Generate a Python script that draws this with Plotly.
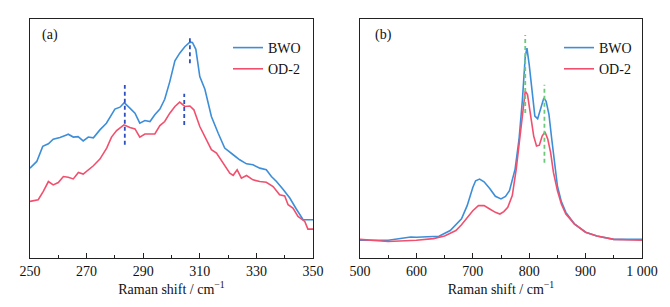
import plotly.graph_objects as go

# ---------- Panel (a) data ----------
a_bwo_x = [250, 252.4, 254.5, 256.5, 258.2, 260.6, 262.9, 263.5, 265.3, 267, 268.8, 270.6, 272.4,
           274.7, 277, 280, 281.8, 283.3, 285.3, 287.1, 288.8, 290.6, 292.4, 294.1, 295.9, 297.6,
           299.4, 301.2, 302.9, 304.7, 306.5, 307.4, 308.6, 310, 311.8, 314.1, 316.5, 318.8, 321.8,
           324.1, 326.5, 328.8, 331.2, 333.5, 335.3, 337.1, 339.4, 341.8, 344.1, 346.5, 348.2, 350]
a_bwo_y = [37.6, 40.4, 46.7, 47.8, 49.7, 50.4, 51.5, 51.8, 50.6, 50.8, 49.0, 50.6, 50.3,
           53.6, 56.4, 62.3, 63.1, 65.0, 62.7, 60.6, 56.4, 57.5, 57.1, 59.9, 62.3, 66.4,
           73.8, 82.5, 85.7, 88.4, 90.3, 90.2, 87.3, 75.9, 70.6, 59.2, 52.2, 46.0, 43.2,
           41.1, 39.4, 39.0, 37.6, 36.9, 34.1, 32.0, 28.8, 25.1, 20.5, 16.0, 16.0, 16.0]

a_od_x = [250, 252.9, 254.7, 256.5, 258.2, 260, 261.8, 263.5, 265.3, 267.1, 268.8, 270.6, 272.4,
          274.7, 277.1, 278.8, 280.6, 283.2, 285.3, 287.1, 288.8, 290.6, 292.4, 294.1, 295.9,
          297.6, 299.4, 301.2, 302.9, 304.7, 306.5, 307.9, 310, 311.8, 314.1, 315.9, 318.2, 320.6,
          321.8, 323.2, 324.7, 326.5, 328.8, 331.2, 333.5, 335.9, 338.2, 340, 341.2, 342.9, 344.7,
          347.1, 348.2, 350]
a_od_y = [23.7, 24.4, 27.9, 32.0, 30.6, 31.6, 34.1, 33.8, 33.1, 35.8, 35.1, 36.9, 38.6,
          41.4, 46.0, 50.6, 53.3, 55.7, 54.6, 54.0, 50.6, 51.9, 51.9, 51.9, 55.4,
          57.1, 60.6, 63.4, 65.2, 63.4, 63.6, 62.0, 55.0, 50.8, 45.3, 43.9, 39.7, 35.5,
          34.6, 36.9, 33.4, 34.5, 32.7, 32.0, 31.7, 29.9, 26.5, 26.0, 22.3, 20.9, 17.4,
          15.3, 12.1, 12.1]

# peak marker positions (a)
a_peak_x = [283.5, 306.5, 304.5]
a_peak_lo = [47.4, 81.5, 55.7]
a_peak_hi = [72.4, 92.9, 68.7]

# ---------- Panel (b) data ----------
b_bwo_x = [500, 550, 590, 600, 640, 660, 680, 690, 700, 705, 712, 720, 730, 740, 750, 758, 765,
           775, 782, 788, 793, 796, 800, 805, 810, 815, 820, 826, 830, 835, 840, 845, 850, 857,
           865, 880, 900, 920, 950, 1000]
b_bwo_y = [7.4, 7.4, 8.8, 8.7, 9.1, 11.5, 16.4, 21.9, 29.5, 32.3, 33.0, 31.9, 29.1, 25.8, 24.7,
           25.8, 28.2, 37.2, 49.7, 66.3, 84.3, 87.8, 80.9, 69.1, 59.4, 58.3, 62.1, 67.0, 65.6,
           60.1, 49.7, 38.6, 30.2, 23.6, 19.1, 14.3, 10.8, 9.2, 7.8, 7.8]

b_od_x = [500, 550, 600, 630, 650, 670, 680, 690, 700, 710, 720, 730, 740, 748, 755, 762, 770,
          777, 783, 788, 793, 797, 802, 808, 813, 818, 823, 828, 833, 838, 843, 850, 857, 865,
          880, 900, 920, 950, 1000]
b_od_y = [7.8, 6.9, 7.4, 8.1, 9.2, 11.5, 13.9, 17.1, 19.8, 21.9, 21.9, 20.5, 19.1, 18.4, 19.4,
          21.2, 26.1, 37.2, 49.7, 62.1, 69.8, 68.4, 60.7, 51.0, 46.9, 47.2, 51.0, 52.7, 49.7,
          44.1, 35.8, 28.2, 22.6, 18.4, 14.3, 10.8, 9.2, 7.8, 7.4]

b_peak_x = [793, 827]
b_peak_lo = [60.7, 39.9]
b_peak_hi = [93.3, 72.5]

a_tickvals = [250, 270, 290, 310, 330, 350]
a_ticktext = ["250", "270", "290", "310", "330", "350"]
b_tickvals = [500, 600, 700, 800, 900, 1000]
b_ticktext = ["500", "600", "700", "800", "900", "1 000"]

BLUE = "#3d8ed8"
RED = "#f0506e"
SERIF = "Liberation Serif, Times New Roman, serif"

fig = go.Figure()

fig.add_trace(go.Scatter(x=a_bwo_x, y=a_bwo_y, mode="lines", name="BWO",
                         line=dict(color=BLUE, width=1.6), xaxis="x", yaxis="y", legend="legend"))
fig.add_trace(go.Scatter(x=a_od_x, y=a_od_y, mode="lines", name="OD-2",
                         line=dict(color=RED, width=1.6), xaxis="x", yaxis="y", legend="legend"))
for px, lo, hi in zip(a_peak_x, a_peak_lo, a_peak_hi):
    fig.add_trace(go.Scatter(x=[px, px], y=[lo, hi], mode="lines", showlegend=False,
                             line=dict(color="#2e4fc4", width=1.8, dash="4px,3px"),
                             xaxis="x", yaxis="y", hoverinfo="skip"))

fig.add_trace(go.Scatter(x=b_bwo_x, y=b_bwo_y, mode="lines", name="BWO",
                         line=dict(color=BLUE, width=1.6), xaxis="x2", yaxis="y2", legend="legend2"))
fig.add_trace(go.Scatter(x=b_od_x, y=b_od_y, mode="lines", name="OD-2",
                         line=dict(color=RED, width=1.6), xaxis="x2", yaxis="y2", legend="legend2"))
for px, lo, hi in zip(b_peak_x, b_peak_lo, b_peak_hi):
    fig.add_trace(go.Scatter(x=[px, px], y=[lo, hi], mode="lines", showlegend=False,
                             line=dict(color="#6cc97a", width=1.8, dash="4px,3px"),
                             xaxis="x2", yaxis="y2", hoverinfo="skip"))

# page body adds an 8px margin, so the figure is sized/positioned to compensate
W, H = 662, 299
ydom = [(H - 250) / H, (H - 11) / H]

def xaxis_style(dom, rng, tv, tt, minor_dtick):
    return dict(domain=dom, range=rng, tickvals=tv, ticktext=tt, automargin=False,
                ticks="inside", ticklen=5, tickwidth=1, tickcolor="#222",
                minor=dict(ticks="inside", ticklen=3, tickwidth=1, tickcolor="#222",
                           dtick=minor_dtick, tick0=rng[0]),
                showline=True, linecolor="#222", linewidth=1.3, mirror=True,
                showgrid=False, zeroline=False,
                tickfont=dict(family=SERIF, size=14, color="#111"),
                title=dict(text="Raman shift / cm<sup>−1</sup>", standoff=5,
                           font=dict(family=SERIF, size=14, color="#111")))

def yaxis_style(anchor):
    return dict(domain=ydom, range=[0, 100], anchor=anchor, showticklabels=False, ticks="",
                automargin=False,
                showline=True, linecolor="#222", linewidth=1.3, mirror=True,
                showgrid=False, zeroline=False)

fig.update_layout(
    width=W, height=H,
    margin=dict(l=0, r=0, t=0, b=0, autoexpand=False),
    paper_bgcolor="white", plot_bgcolor="white",
    xaxis=xaxis_style([22 / W, 305 / W], [250, 350], a_tickvals, a_ticktext, 10) | dict(anchor="y"),
    yaxis=yaxis_style("x"),
    xaxis2=xaxis_style([352 / W, 634 / W], [500, 1000], b_tickvals, b_ticktext, 50) | dict(anchor="y2"),
    yaxis2=yaxis_style("x2"),
    legend=dict(x=220 / W, y=(H - 24) / H, xanchor="left", yanchor="top",
                bgcolor="rgba(0,0,0,0)", font=dict(family=SERIF, size=14, color="#111"),
                tracegroupgap=0, itemwidth=30),
    legend2=dict(x=551 / W, y=(H - 24) / H, xanchor="left", yanchor="top",
                 bgcolor="rgba(0,0,0,0)", font=dict(family=SERIF, size=14, color="#111"),
                 tracegroupgap=0, itemwidth=30),
    showlegend=True,
    annotations=[
        dict(text="(a)", x=32 / W, y=(H - 27) / H, xref="paper", yref="paper",
             xanchor="left", yanchor="middle", showarrow=False,
             font=dict(family=SERIF, size=14, color="#111")),
        dict(text="(b)", x=365 / W, y=(H - 27) / H, xref="paper", yref="paper",
             xanchor="left", yanchor="middle", showarrow=False,
             font=dict(family=SERIF, size=14, color="#111")),
    ],
)

fig.write_html("out.html")
